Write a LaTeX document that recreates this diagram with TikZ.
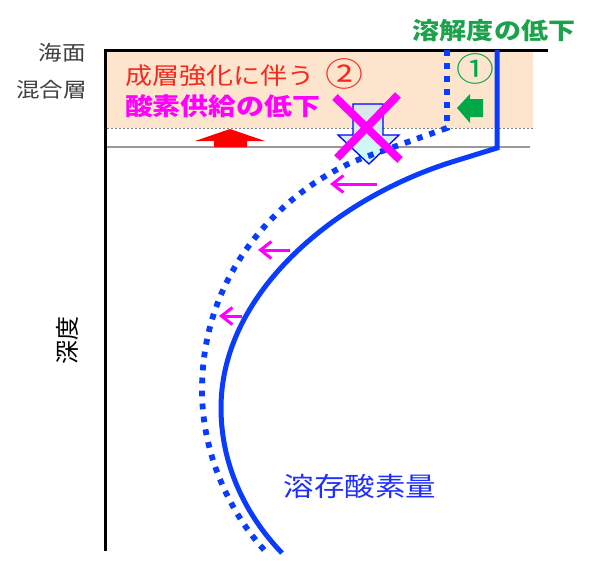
\documentclass[tikz,border=0pt]{standalone}
\usepackage{fontspec}
\newfontfamily\jp[FakeStretch=1.15]{Noto Sans CJK JP}
\newfontfamily\jpn{Noto Sans CJK JP}
\usetikzlibrary{arrows.meta}
\definecolor{peach}{HTML}{FDE4CD}
\definecolor{curveblue}{HTML}{0A3CFF}
\definecolor{textblue}{HTML}{1F2FFF}
\definecolor{okgreen}{HTML}{00A846}
\definecolor{txtgreen}{HTML}{1BA24B}
\definecolor{pinkm}{HTML}{FF00FF}
\definecolor{redtxt}{HTML}{F52A1E}
\definecolor{labelgray}{HTML}{404040}
\tikzset{
  axisline/.style={line width=3pt, black},
  curvesolid/.style={line width=5pt, curveblue, line join=miter},
  curvedot/.style={line width=5.8pt, curveblue, dash pattern=on 5.8pt off 7.2pt},
  shiftarrow/.style={line width=3pt, pinkm, -{Straight Barb[length=11pt,width=17pt]}},
  lbl/.style={inner sep=0pt, outer sep=0pt},
}
\begin{document}
\begin{tikzpicture}[x=1pt,y=-1pt]
\useasboundingbox (0,0) rectangle (600,560);
% mixed layer shading
\fill[peach] (107,52) rectangle (533,128);
\draw[gray, line width=1pt, dash pattern=on 2pt off 2pt] (107,128) -- (533,128);
\draw[gray!80, line width=1.5pt] (107,147) -- (530,147);
% axes
\coordinate (origin) at (105,50);
\coordinate (axisbottom) at (105,551);
\coordinate (axisright) at (548,50);
\draw[axisline] (axisbottom) -- (origin) -- (axisright);
% labels
\node[lbl, anchor=east, text=labelgray] (sea) at (86,53) {\jp\fontsize{20.5}{21}\selectfont 海面};
\node[lbl, anchor=east, text=labelgray] (mix) at (87,90) {\jp\fontsize{20.5}{21}\selectfont 混合層};
\node[lbl, rotate=90, text=black] (depth) at (67,340) {\jpn\fontsize{24}{24}\selectfont 深度};
% red up arrow
\fill[red] (230,129) -- (265,141) -- (247,141) -- (247,147) -- (214,147) -- (214,141) -- (195,141) -- cycle;
% down arrow (blocked supply)
\shade[top color=cyan!15!gray!25, bottom color=cyan!20, draw=blue, line width=1.3pt]
  (353,104) -- (383,104) -- (383,135) -- (399,135) -- (369,164) -- (338,135) -- (353,135) -- cycle;
% green arrow
\fill[okgreen] (457,108) -- (470,94) -- (470,99) -- (483,99) -- (483,117) -- (470,117) -- (470,123) -- cycle;
% curves
\draw[curvesolid] (497,50) -- (497,148) -- (455,161)
  .. controls (340,196) and (221,290) .. (221,408)
  .. controls (221,470) and (250,520) .. (282,553);
\draw[curvedot] (447,50) -- (447,128) -- (360,159)
  .. controls (293,185) and (202,263) .. (202,390)
  .. controls (202,460) and (235,520) .. (268,554);
% magenta shift arrows
\coordinate (a1s) at (377,184); \coordinate (a1e) at (330,184);
\coordinate (a2s) at (290,250); \coordinate (a2e) at (258,250);
\coordinate (a3s) at (242,316); \coordinate (a3e) at (219,316);
\draw[shiftarrow] (a1s) -- (a1e);
\draw[shiftarrow] (a2s) -- (a2e);
\draw[shiftarrow] (a3s) -- (a3e);
% magenta X
\draw[pinkm, line width=8pt] (335,97) -- (400,160);
\draw[pinkm, line width=8pt] (398,95) -- (337,158);
% texts
\node[lbl, text=txtgreen] (sol) at (494,31) {\jp\bfseries\fontsize{23.5}{24}\selectfont 溶解度の低下};
\node[lbl, text=okgreen] (n1) at (475,69) {\jp\fontsize{33}{33}\selectfont ①};
\node[lbl, anchor=west, text=redtxt] (strat) at (125,76) {\jp\fontsize{23.5}{24}\selectfont 成層強化に伴う};
\node[lbl, text=redtxt] (n2) at (344,74) {\jp\fontsize{33}{33}\selectfont ②};
\node[lbl, anchor=west, text=pinkm] (oxy) at (125,106.5) {\jp\bfseries\fontsize{24.3}{25}\selectfont 酸素供給の低下};
\node[lbl, text=textblue] (do) at (360,486) {\jp\fontsize{26.5}{27}\selectfont 溶存酸素量};
\end{tikzpicture}
\end{document}
